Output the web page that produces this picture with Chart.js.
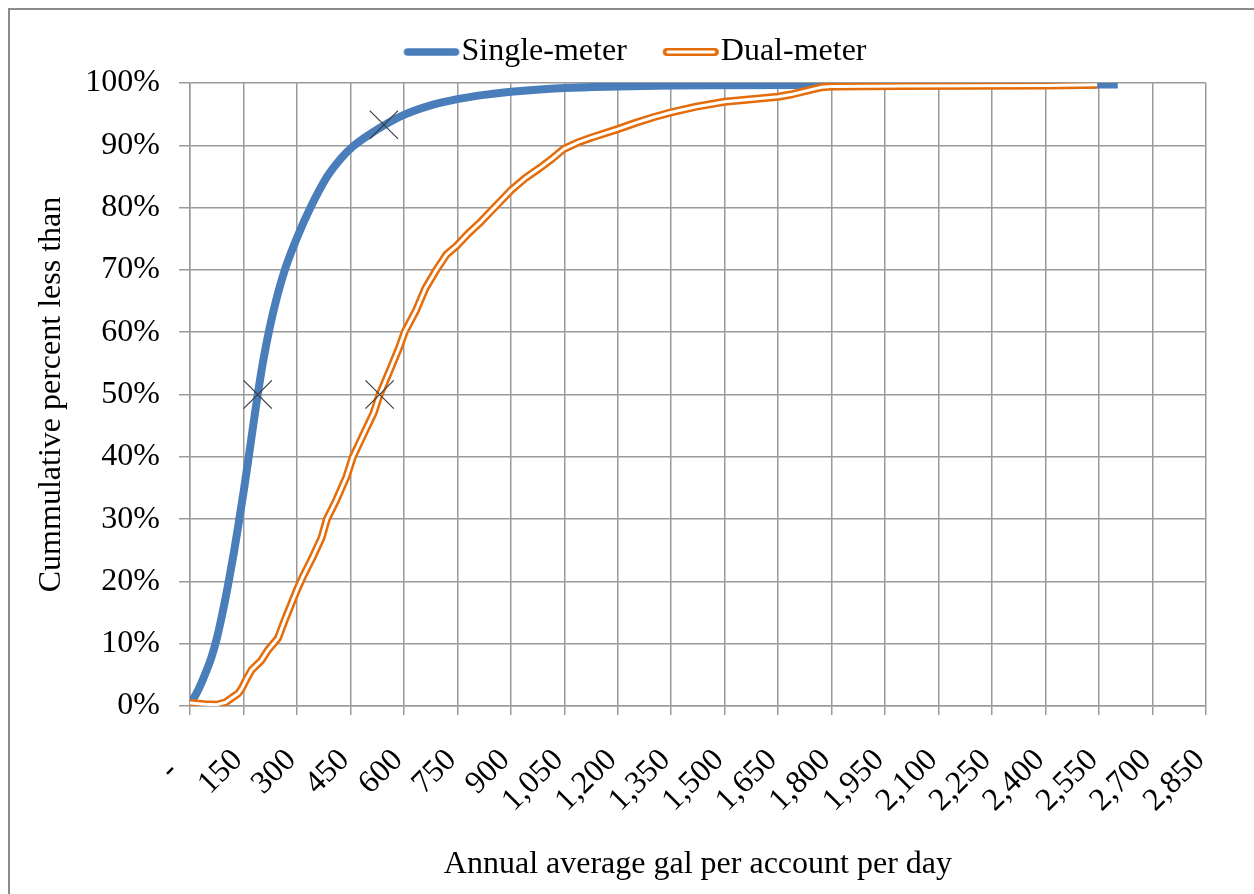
<!DOCTYPE html>
<html>
<head>
<meta charset="utf-8">
<script src="https://cdn.jsdelivr.net/npm/chart.js@4/dist/chart.umd.min.js"></script>
<style>
html,body{margin:0;padding:0;background:#fff;}
#wrap{width:1254px;height:894px;position:relative;}
canvas{display:block;}
</style>
</head>
<body>
<div id="wrap"><canvas id="c" width="1254" height="894"></canvas></div>
<script>
// ---- data ----
const seriesNames = ['Single-meter', 'Dual-meter'];

const singleX = [0, 10, 25, 45, 60, 75, 90, 107, 123, 137, 151, 164, 177, 190, 205, 222, 242, 266, 299, 338, 385, 425, 457, 500, 544, 597, 675, 750, 825, 900, 1050, 1200, 1350, 1500, 1800, 2100, 2400, 2603];
const singleY = [0.5, 1.2, 2.8, 5.5, 7.8, 10.8, 14.6, 19.5, 24.6, 29.5, 34.6, 39.7, 44.9, 50, 55.3, 60.3, 65.2, 70, 75, 80, 85, 88, 89.8, 91.6, 93.2, 94.8, 96.4, 97.4, 98.1, 98.6, 99.2, 99.45, 99.6, 99.65, 99.7, 99.75, 99.75, 99.75];

const dualX = [0, 40, 75, 100, 117, 135, 145, 160, 173, 200, 219, 247, 266, 299, 317, 345, 369, 384, 410, 439, 457, 490, 515, 532, 565, 588, 602, 635, 660, 691, 720, 747, 780, 812, 854, 901, 940, 980, 1015, 1048, 1090, 1129, 1200, 1250, 1300, 1350, 1420, 1500, 1575, 1650, 1690, 1740, 1770, 1800, 2000, 2200, 2400, 2545];
const dualY = [0.5, 0.3, 0.2, 0.6, 1.3, 2.0, 2.8, 4.5, 5.8, 7.3, 9.0, 10.9, 13.8, 18.5, 20.8, 24, 27, 30, 33, 36.8, 40, 44, 47, 50, 54.5, 57.7, 60, 63.6, 67, 70, 72.5, 73.8, 75.8, 77.5, 80, 82.8, 84.7, 86.3, 87.8, 89.4, 90.5, 91.3, 92.6, 93.6, 94.5, 95.3, 96.2, 97, 97.4, 97.8, 98.2, 98.9, 99.3, 99.45, 99.5, 99.55, 99.6, 99.7];

const markerX = [190, 544, 532];
const markerY = [50, 93.3, 50];

const xTickValues = [0, 150, 300, 450, 600, 750, 900, 1050, 1200, 1350, 1500, 1650, 1800, 1950, 2100, 2250, 2400, 2550, 2700, 2850];
const xTickLabels = ['-', '150', '300', '450', '600', '750', '900', '1,050', '1,200', '1,350', '1,500', '1,650', '1,800', '1,950', '2,100', '2,250', '2,400', '2,550', '2,700', '2,850'];
const yTickLabels = ['0%', '10%', '20%', '30%', '40%', '50%', '60%', '70%', '80%', '90%', '100%'];

const xTitle = 'Annual average gal per account per day';
const yTitle = 'Cummulative percent less than';

// ---- styles ----
const BLUE = '#4A7EBB';
const ORANGE = '#E46C0A';
const GRID = '#9a9a9a';
const FONT = "'Liberation Serif', 'Times New Roman', serif";

function pts(xs, ys) { return xs.map((x, i) => ({ x: x, y: ys[i] })); }

function legendImg(kind) {
  const c = document.createElement('canvas');
  c.width = 100; c.height = 14;
  const g = c.getContext('2d');
  g.lineCap = 'round';
  if (kind === 0) {
    g.strokeStyle = BLUE; g.lineWidth = 7.5;
    g.beginPath(); g.moveTo(46, 7); g.lineTo(94, 7); g.stroke();
  } else {
    g.strokeStyle = ORANGE; g.lineWidth = 8;
    g.beginPath(); g.moveTo(46, 7); g.lineTo(94, 7); g.stroke();
    g.strokeStyle = '#fff'; g.lineWidth = 3;
    g.beginPath(); g.moveTo(47, 7); g.lineTo(93, 7); g.stroke();
  }
  return c;
}
const legendImgs = [legendImg(0), legendImg(1)];

const framePlugin = {
  id: 'frame',
  beforeDraw(chart) {
    const ctx = chart.ctx;
    ctx.save();
    ctx.fillStyle = '#fff';
    ctx.fillRect(0, 0, chart.width, chart.height);
    ctx.strokeStyle = '#8c8c8c';
    ctx.lineWidth = 2;
    ctx.strokeRect(9, 9, chart.width + 20, chart.height + 20);
    ctx.restore();
  }
};
const shiftLegend = {
  id: 'shiftLegend',
  afterLayout(chart) {
    const l = chart.legend;
    if (l) { l.top -= 5; l.bottom -= 5; l.left += 18; l.right += 18; }
  }
};

new Chart(document.getElementById('c'), {
  type: 'line',
  data: {
    datasets: [
      { label: seriesNames[0], data: pts(singleX, singleY), borderColor: BLUE, backgroundColor: BLUE,
        borderWidth: 8, pointRadius: 0, cubicInterpolationMode: 'monotone', order: 4, borderJoinStyle: 'round' },
      { label: seriesNames[1], data: pts(dualX, dualY), borderColor: ORANGE, backgroundColor: ORANGE,
        borderWidth: 8, pointRadius: 0, tension: 0, order: 3, borderJoinStyle: 'round' },
      { label: 'inner', data: pts(dualX, dualY), borderColor: '#ffffff', backgroundColor: '#ffffff',
        borderWidth: 3, pointRadius: 0, tension: 0, order: 2, borderJoinStyle: 'round' },
      { label: 'markers', data: pts(markerX, markerY), showLine: false, pointStyle: 'crossRot',
        pointRadius: 20, pointBorderColor: '#3c3c3c', pointBorderWidth: 1.2, borderColor: '#3c3c3c', order: 1 }
    ]
  },
  options: {
    responsive: false,
    animation: false,
    devicePixelRatio: 1,
    layout: { padding: { top: 31, left: 0, right: 46, bottom: 0 } },
    plugins: {
      tooltip: { enabled: false },
      legend: {
        position: 'top',
        labels: {
          usePointStyle: true,
          pointStyleWidth: 68,
          padding: 10,
          color: '#000',
          font: { family: FONT, size: 32 },
          generateLabels: () => seriesNames.map((n, i) => ({
            text: n, pointStyle: legendImgs[i], fillStyle: i ? ORANGE : BLUE,
            strokeStyle: i ? ORANGE : BLUE, lineWidth: 0, hidden: false, datasetIndex: i, fontColor: '#000'
          }))
        }
      }
    },
    scales: {
      x: {
        type: 'linear', min: 0, max: 2850,
        afterFit(s) { s.height = 188; },
        afterBuildTicks(s) { s.ticks = xTickValues.map(v => ({ value: v })); },
        grid: { color: GRID, lineWidth: 1.5, tickLength: 9, tickColor: GRID },
        border: { color: GRID, width: 1.5 },
        ticks: {
          autoSkip: false, minRotation: 45, maxRotation: 45, padding: 21, color: '#000',
          font: { family: FONT, size: 32 },
          callback: (v) => { const i = xTickValues.indexOf(v); const t = i >= 0 ? xTickLabels[i] : ''; return t === '-' ? t + '   ' : t + ' '; }
        },
        title: { display: true, text: xTitle, color: '#000', font: { family: FONT, size: 32 }, padding: { top: 0, bottom: 10 } }
      },
      y: {
        type: 'linear', min: 0, max: 100,
        afterFit(s) { s.width = 190; },
        grid: { color: GRID, lineWidth: 1.5, tickLength: 11, tickColor: GRID },
        border: { color: GRID, width: 1.5 },
        ticks: {
          stepSize: 10, padding: 19, color: '#000',
          font: { family: FONT, size: 32 },
          callback: (v) => yTickLabels[Math.round(v / 10)]
        },
        title: { display: true, text: yTitle, color: '#000', font: { family: FONT, size: 32 }, padding: { top: 32, bottom: 0 } }
      }
    }
  },
  plugins: [framePlugin, shiftLegend]
});
</script>
</body>
</html>
